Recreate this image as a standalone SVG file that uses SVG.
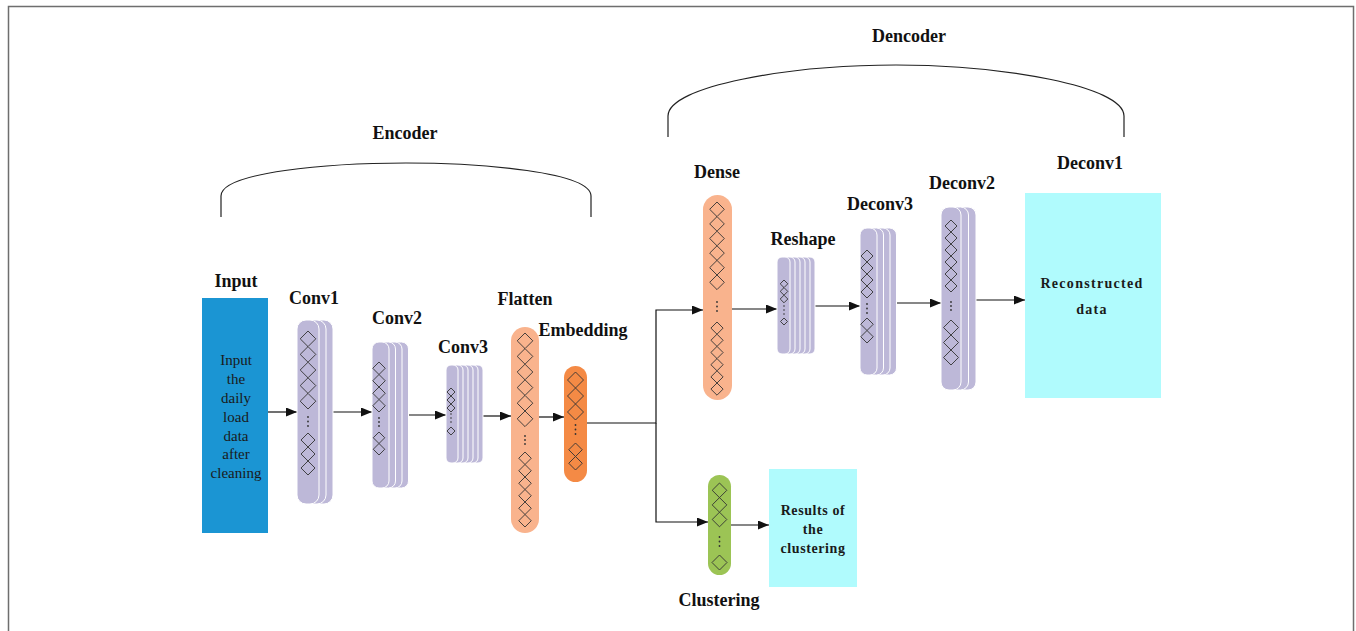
<svg xmlns="http://www.w3.org/2000/svg" width="1356" height="631" viewBox="0 0 1356 631">
<style>
.lbl{font-family:"Liberation Serif","Times New Roman",serif;font-weight:bold;font-size:18px;fill:#111;text-anchor:middle}
.inner{font-family:"Liberation Serif","Times New Roman",serif;font-size:15px;fill:#1a1a1a;text-anchor:middle}
.inb{font-family:"Liberation Serif","Times New Roman",serif;font-weight:bold;font-size:14px;fill:#1a1a1a;text-anchor:middle}
.lav{fill:#bdb8d8;stroke:#ffffff;stroke-width:1}
.dia{fill:none;stroke:#333;stroke-width:0.9}
.dot{fill:#333}
.con{fill:none;stroke:#111;stroke-width:1.2}
.brk{fill:none;stroke:#222;stroke-width:1.2}
</style>
<defs>
<marker id="ah" markerUnits="userSpaceOnUse" markerWidth="11" markerHeight="9" refX="11" refY="4.5" orient="auto">
<path d="M0,0 L11,4.5 L0,9 z" fill="#111"/>
</marker>
</defs>
<rect x="8.5" y="6.5" width="1345" height="640" fill="#ffffff" stroke="#6e6e6e" stroke-width="1.5"/>

<g id="encoder-bracket">
<path class="brk" d="M221,217 L221,196 C221,172 330,163 406,163 C482,163 591,172 591,196 L591,217"/>
<text class="lbl" x="405" y="139">Encoder</text>
</g>
<g id="decoder-bracket">
<path class="brk" d="M668,137 L668,116 C668,86 790,65 896,65 C1002,65 1124,86 1124,116 L1124,137"/>
<text class="lbl" x="909" y="42">Dencoder</text>
</g>

<g id="connectors">
<path class="con" d="M268,412 H297" marker-end="url(#ah)"/>
<path class="con" d="M333,412 H372" marker-end="url(#ah)"/>
<path class="con" d="M409,415 H446" marker-end="url(#ah)"/>
<path class="con" d="M483,416 H511" marker-end="url(#ah)"/>
<path class="con" d="M533,417 H564" marker-end="url(#ah)"/>
<path class="con" d="M587,423 H656 V310 H703" marker-end="url(#ah)"/>
<path class="con" d="M656,423 V522 H708" marker-end="url(#ah)"/>
<path class="con" d="M732,309 H777" marker-end="url(#ah)"/>
<path class="con" d="M815,306 H860" marker-end="url(#ah)"/>
<path class="con" d="M897,303 H941" marker-end="url(#ah)"/>
<path class="con" d="M976,300 H1025" marker-end="url(#ah)"/>
<path class="con" d="M731,525 H769" marker-end="url(#ah)"/>
</g>

<g id="input">
<rect x="202" y="298" width="66" height="235" fill="#1b95d3"/>
<text class="lbl" x="236" y="287">Input</text>
<text class="inner" x="236" y="365">Input</text>
<text class="inner" x="236" y="384">the</text>
<text class="inner" x="236" y="403">daily</text>
<text class="inner" x="236" y="422">load</text>
<text class="inner" x="236" y="441">data</text>
<text class="inner" x="236" y="459">after</text>
<text class="inner" x="236" y="478">cleaning</text>
</g>

<g id="conv1">
<rect class="lav" x="311" y="320" width="22" height="184" rx="9"/>
<rect class="lav" x="304" y="320" width="22" height="184" rx="9"/>
<rect class="lav" x="297" y="320" width="22" height="184" rx="9"/>
<path class="dia" d="M308,331 l7.8,7.8 -7.8,7.8 -7.8,-7.8z m0,15.6 l7.8,7.8 -7.8,7.8 -7.8,-7.8z m0,15.6 l7.8,7.8 -7.8,7.8 -7.8,-7.8z m0,15.6 l7.8,7.8 -7.8,7.8 -7.8,-7.8z m0,15.6 l7.8,7.8 -7.8,7.8 -7.8,-7.8z M308,433 l7,7 -7,7 -7,-7z m0,14 l7,7 -7,7 -7,-7z m0,14 l7,7 -7,7 -7,-7z"/>
<circle class="dot" cx="308" cy="417" r="0.9"/><circle class="dot" cx="308" cy="421.5" r="0.9"/><circle class="dot" cx="308" cy="426" r="0.9"/>
<text class="lbl" x="314" y="304">Conv1</text>
</g>

<g id="conv2">
<rect class="lav" x="391.5" y="342" width="17" height="146" rx="7"/>
<rect class="lav" x="385" y="342" width="17" height="146" rx="7"/>
<rect class="lav" x="378.5" y="342" width="17" height="146" rx="7"/>
<rect class="lav" x="372" y="342" width="17" height="146" rx="7"/>
<path class="dia" d="M379,362 l6.25,6.25 -6.25,6.25 -6.25,-6.25z m0,12.5 l6.25,6.25 -6.25,6.25 -6.25,-6.25z m0,12.5 l6.25,6.25 -6.25,6.25 -6.25,-6.25z m0,12.5 l6.25,6.25 -6.25,6.25 -6.25,-6.25z M379,432 l5.75,5.75 -5.75,5.75 -5.75,-5.75z m0,11.5 l5.75,5.75 -5.75,5.75 -5.75,-5.75z"/>
<circle class="dot" cx="379" cy="418" r="0.9"/><circle class="dot" cx="379" cy="422" r="0.9"/><circle class="dot" cx="379" cy="426" r="0.9"/>
<text class="lbl" x="397" y="324">Conv2</text>
</g>

<g id="conv3">
<rect class="lav" x="471" y="365" width="12" height="98" rx="5"/>
<rect class="lav" x="466" y="365" width="12" height="98" rx="5"/>
<rect class="lav" x="461" y="365" width="12" height="98" rx="5"/>
<rect class="lav" x="456" y="365" width="12" height="98" rx="5"/>
<rect class="lav" x="451" y="365" width="12" height="98" rx="5"/>
<rect class="lav" x="446" y="365" width="12" height="98" rx="5"/>
<path class="dia" d="M451,388 l4,4 -4,4 -4,-4z m0,8 l4,4 -4,4 -4,-4z m0,8 l4,4 -4,4 -4,-4z M451,427 l4,4 -4,4 -4,-4z"/>
<circle class="dot" cx="451" cy="414" r="0.8"/><circle class="dot" cx="451" cy="418" r="0.8"/><circle class="dot" cx="451" cy="422" r="0.8"/>
<text class="lbl" x="463" y="353">Conv3</text>
</g>

<g id="flatten">
<rect x="511" y="327" width="28" height="206" rx="14" fill="#f9b38d"/>
<path class="dia" d="M525,333 l7.8,7.8 -7.8,7.8 -7.8,-7.8z m0,15.6 l7.8,7.8 -7.8,7.8 -7.8,-7.8z m0,15.6 l7.8,7.8 -7.8,7.8 -7.8,-7.8z m0,15.6 l7.8,7.8 -7.8,7.8 -7.8,-7.8z m0,15.6 l7.8,7.8 -7.8,7.8 -7.8,-7.8z m0,15.6 l7.8,7.8 -7.8,7.8 -7.8,-7.8z M525,452 l6.25,6.25 -6.25,6.25 -6.25,-6.25z m0,12.5 l6.25,6.25 -6.25,6.25 -6.25,-6.25z m0,12.5 l6.25,6.25 -6.25,6.25 -6.25,-6.25z m0,12.5 l6.25,6.25 -6.25,6.25 -6.25,-6.25z m0,12.5 l6.25,6.25 -6.25,6.25 -6.25,-6.25z m0,12.5 l6.25,6.25 -6.25,6.25 -6.25,-6.25z"/>
<circle class="dot" cx="525" cy="436" r="0.9"/><circle class="dot" cx="525" cy="440" r="0.9"/><circle class="dot" cx="525" cy="444" r="0.9"/>
<text class="lbl" x="525" y="305">Flatten</text>
</g>

<g id="embedding">
<rect x="564" y="366" width="23" height="116" rx="11.5" fill="#f48a45"/>
<path class="dia" d="M575.5,372 l8,8 -8,8 -8,-8z m0,16 l8,8 -8,8 -8,-8z m0,16 l8,8 -8,8 -8,-8z M575.5,443 l6.75,6.75 -6.75,6.75 -6.75,-6.75z m0,13.5 l6.75,6.75 -6.75,6.75 -6.75,-6.75z"/>
<circle class="dot" cx="575.5" cy="425" r="0.9"/><circle class="dot" cx="575.5" cy="429.5" r="0.9"/><circle class="dot" cx="575.5" cy="434" r="0.9"/>
<text class="lbl" x="583" y="336">Embedding</text>
</g>

<g id="dense">
<rect x="703" y="195" width="29" height="205" rx="14.5" fill="#f9b38d"/>
<path class="dia" d="M717,202 l7.3,7.3 -7.3,7.3 -7.3,-7.3z m0,14.6 l7.3,7.3 -7.3,7.3 -7.3,-7.3z m0,14.6 l7.3,7.3 -7.3,7.3 -7.3,-7.3z m0,14.6 l7.3,7.3 -7.3,7.3 -7.3,-7.3z m0,14.6 l7.3,7.3 -7.3,7.3 -7.3,-7.3z m0,14.6 l7.3,7.3 -7.3,7.3 -7.3,-7.3z M717,322 l6.1,6.1 -6.1,6.1 -6.1,-6.1z m0,12.2 l6.1,6.1 -6.1,6.1 -6.1,-6.1z m0,12.2 l6.1,6.1 -6.1,6.1 -6.1,-6.1z m0,12.2 l6.1,6.1 -6.1,6.1 -6.1,-6.1z m0,12.2 l6.1,6.1 -6.1,6.1 -6.1,-6.1z m0,12.2 l6.1,6.1 -6.1,6.1 -6.1,-6.1z"/>
<circle class="dot" cx="717" cy="302" r="0.9"/><circle class="dot" cx="717" cy="306.5" r="0.9"/><circle class="dot" cx="717" cy="311" r="0.9"/>
<text class="lbl" x="717" y="178">Dense</text>
</g>

<g id="reshape">
<rect class="lav" x="802" y="257" width="13" height="97" rx="5"/>
<rect class="lav" x="797" y="257" width="13" height="97" rx="5"/>
<rect class="lav" x="792" y="257" width="13" height="97" rx="5"/>
<rect class="lav" x="787" y="257" width="13" height="97" rx="5"/>
<rect class="lav" x="782" y="257" width="13" height="97" rx="5"/>
<rect class="lav" x="777" y="257" width="13" height="97" rx="5"/>
<path class="dia" d="M784,280 l3.8,3.8 -3.8,3.8 -3.8,-3.8z m0,7.6 l3.8,3.8 -3.8,3.8 -3.8,-3.8z m0,7.6 l3.8,3.8 -3.8,3.8 -3.8,-3.8z M784,318 l3.5,3.5 -3.5,3.5 -3.5,-3.5z"/>
<circle class="dot" cx="784" cy="306" r="0.8"/><circle class="dot" cx="784" cy="310" r="0.8"/><circle class="dot" cx="784" cy="314" r="0.8"/>
<text class="lbl" x="803" y="245">Reshape</text>
</g>

<g id="deconv3">
<rect class="lav" x="879.5" y="228" width="17" height="147" rx="7"/>
<rect class="lav" x="873" y="228" width="17" height="147" rx="7"/>
<rect class="lav" x="866.5" y="228" width="17" height="147" rx="7"/>
<rect class="lav" x="860" y="228" width="17" height="147" rx="7"/>
<path class="dia" d="M867,250 l6,6 -6,6 -6,-6z m0,12 l6,6 -6,6 -6,-6z m0,12 l6,6 -6,6 -6,-6z m0,12 l6,6 -6,6 -6,-6z M867,318 l6.25,6.25 -6.25,6.25 -6.25,-6.25z m0,12.5 l6.25,6.25 -6.25,6.25 -6.25,-6.25z"/>
<circle class="dot" cx="867" cy="304" r="0.9"/><circle class="dot" cx="867" cy="308.5" r="0.9"/><circle class="dot" cx="867" cy="313" r="0.9"/>
<text class="lbl" x="880" y="210">Deconv3</text>
</g>

<g id="deconv2">
<rect class="lav" x="956" y="207" width="20" height="183" rx="8"/>
<rect class="lav" x="948.5" y="207" width="20" height="183" rx="8"/>
<rect class="lav" x="941" y="207" width="20" height="183" rx="8"/>
<path class="dia" d="M951,220 l6,6 -6,6 -6,-6z m0,12 l6,6 -6,6 -6,-6z m0,12 l6,6 -6,6 -6,-6z m0,12 l6,6 -6,6 -6,-6z m0,12 l6,6 -6,6 -6,-6z m0,12 l6,6 -6,6 -6,-6z M951,320 l7.5,7.5 -7.5,7.5 -7.5,-7.5z m0,15 l7.5,7.5 -7.5,7.5 -7.5,-7.5z m0,15 l7.5,7.5 -7.5,7.5 -7.5,-7.5z"/>
<circle class="dot" cx="951" cy="302" r="0.9"/><circle class="dot" cx="951" cy="306" r="0.9"/><circle class="dot" cx="951" cy="310" r="0.9"/>
<text class="lbl" x="962" y="189">Deconv2</text>
</g>

<g id="deconv1">
<rect x="1025" y="193" width="136" height="205" fill="#b0fbfd"/>
<text class="inb" x="1092" y="288" style="letter-spacing:1.3px">Reconstructed</text>
<text class="inb" x="1092" y="314" style="letter-spacing:1.3px">data</text>
<text class="lbl" x="1090" y="169">Deconv1</text>
</g>

<g id="clustering">
<rect x="708" y="475" width="23" height="100" rx="11.5" fill="#9cc455"/>
<path class="dia" d="M719.5,483 l7.3,7.3 -7.3,7.3 -7.3,-7.3z m0,14.6 l7.3,7.3 -7.3,7.3 -7.3,-7.3z m0,14.6 l7.3,7.3 -7.3,7.3 -7.3,-7.3z M719.5,555 l7.5,7.5 -7.5,7.5 -7.5,-7.5z"/>
<circle class="dot" cx="719.5" cy="537" r="0.9"/><circle class="dot" cx="719.5" cy="541.5" r="0.9"/><circle class="dot" cx="719.5" cy="546" r="0.9"/>
<text class="lbl" x="719" y="606">Clustering</text>
</g>

<g id="results">
<rect x="769" y="469" width="88" height="118" fill="#b0fbfd"/>
<text class="inb" x="813" y="515" style="letter-spacing:0.6px">Results of</text>
<text class="inb" x="813" y="534" style="letter-spacing:0.6px">the</text>
<text class="inb" x="813" y="553" style="letter-spacing:0.6px">clustering</text>
</g>
</svg>
